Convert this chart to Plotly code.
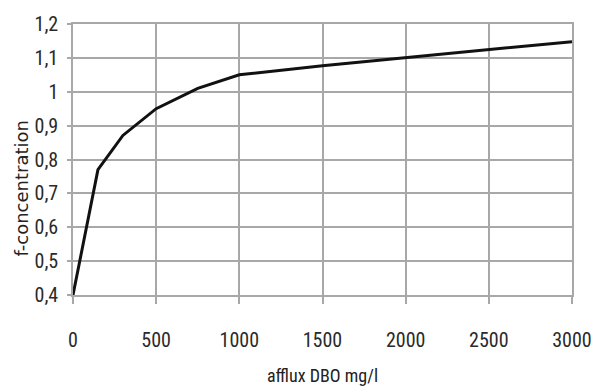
import plotly.graph_objects as go

# BOD inflow (mg/l) and the resulting concentration factor
afflux_dbo = [0, 150, 300, 500, 750, 1000, 1500, 2000, 2500, 3000]
f_concentration = [0.40, 0.77, 0.871, 0.95, 1.01, 1.05, 1.077, 1.10, 1.124, 1.148]

x_ticks = [0, 500, 1000, 1500, 2000, 2500, 3000]
y_ticks = [0.4, 0.5, 0.6, 0.7, 0.8, 0.9, 1.0, 1.1, 1.2]
y_tick_text = ["0,4", "0,5", "0,6", "0,7", "0,8", "0,9", "1", "1,1", "1,2"]

narrow = "Liberation Sans Narrow, Arial Narrow, Roboto Condensed, sans-serif"
grid = "#a8a8a8"

fig = go.Figure()
fig.add_trace(go.Scatter(
    x=afflux_dbo, y=f_concentration, mode="lines",
    line=dict(color="#111111", width=3),
    hoverinfo="x+y", showlegend=False,
))

fig.update_xaxes(
    range=[0, 3000], tickvals=x_ticks, ticktext=[str(v) for v in x_ticks],
    showgrid=True, gridcolor=grid, gridwidth=1.5,
    showline=True, linecolor=grid, linewidth=1.5, mirror=True,
    ticks="outside", ticklen=7, tickcolor=grid, tickwidth=1.5,
    ticklabelstandoff=19,
    tickfont=dict(family=narrow, size=20, color="#2a2a2a"),
    zeroline=False,
)
fig.update_yaxes(
    range=[0.4, 1.2], tickvals=y_ticks, ticktext=y_tick_text,
    showgrid=True, gridcolor=grid, gridwidth=1.5,
    showline=True, linecolor=grid, linewidth=1.5, mirror=True,
    ticks="outside", ticklen=4, tickcolor=grid, tickwidth=1.5,
    ticklabelstandoff=5,
    tickfont=dict(family=narrow, size=20, color="#2a2a2a"),
    zeroline=False,
)

fig.add_annotation(
    text="afflux DBO mg/l", xref="paper", yref="paper",
    x=0.5, y=-0.298, showarrow=False, xanchor="center", yanchor="middle",
    font=dict(family=narrow, size=18, color="#222222"),
)
fig.add_annotation(
    text="f-concentration", xref="paper", yref="paper",
    x=-0.104, y=0.393, showarrow=False, textangle=-90,
    xanchor="center", yanchor="middle",
    font=dict(family="DejaVu Sans, sans-serif", size=18, color="#222222"),
)

fig.update_layout(
    width=604, height=387,
    margin=dict(l=73, r=32, t=20, b=92),
    paper_bgcolor="white", plot_bgcolor="white",
)

fig.write_html("out.html")
